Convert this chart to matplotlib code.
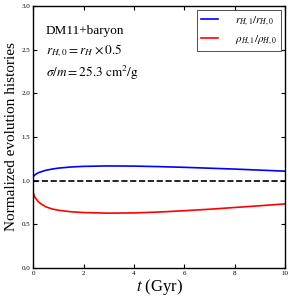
import numpy as np
import matplotlib as mpl
mpl.use('Agg')
import matplotlib.pyplot as plt

mpl.rcParams['font.family'] = 'Liberation Serif'
mpl.rcParams['mathtext.fontset'] = 'stix'

t = [0, 0.05, 0.1, 0.2, 0.3, 0.5, 0.75, 1, 1.5, 2, 3, 4, 5, 6, 7, 8, 9, 10]
r_ratio = [1.046, 1.06, 1.072, 1.09, 1.10, 1.118, 1.132, 1.143, 1.156, 1.163, 1.168, 1.166, 1.16, 1.152, 1.142, 1.132, 1.12, 1.108]
rho_ratio = [0.86, 0.82, 0.795, 0.76, 0.735, 0.70, 0.675, 0.66, 0.643, 0.634, 0.627, 0.630, 0.640, 0.655, 0.672, 0.692, 0.712, 0.733]

fig, ax = plt.subplots(figsize=(2.94, 3.01), dpi=100)
fig.subplots_adjust(left=0.113, right=0.97, bottom=0.11, top=0.98)

ax.plot(t, r_ratio, color='blue', lw=1.2, label=r'$r_{H,1}/r_{H,0}$')
ax.plot(t, rho_ratio, color='red', lw=1.2, label=r'$\rho_{H,1}/\rho_{H,0}$')
ax.axhline(1.0, color='black', ls='--', lw=1.2)

ax.set_xlim(0, 10)
ax.set_ylim(0, 3)
ax.set_xticks([0, 2, 4, 6, 8, 10])
ax.set_yticks([0, 0.5, 1.0, 1.5, 2.0, 2.5, 3.0])
ax.set_yticklabels(['0.0', '0.5', '1.0', '1.5', '2.0', '2.5', '3.0'])
ax.tick_params(direction='in', top=True, right=True, labelsize=5, length=3, width=0.8, pad=2)
for s in ax.spines.values():
    s.set_linewidth(1.0)

ax.set_xlabel(r'$t$ (Gyr)', fontsize=12, labelpad=1)
ax.set_ylabel('Normalized evolution histories', fontsize=11, labelpad=3)

ax.text(0.05, 0.895, 'DM11+baryon', transform=ax.transAxes, fontsize=9.5)
ax.text(0.05, 0.815, r'$r_{H,0} = r_H \times 0.5$', transform=ax.transAxes, fontsize=9.5)
ax.text(0.05, 0.73, r'$\sigma/m = 25.3\ \mathrm{cm}^2/\mathrm{g}$', transform=ax.transAxes, fontsize=9.5)

leg = ax.legend(loc='upper right', fontsize=8, fancybox=False, edgecolor='black',
                handlelength=1.5, borderpad=0.4, labelspacing=0.5, handletextpad=1.5,
                borderaxespad=0.35)
leg.get_frame().set_linewidth(0.6)

fig.savefig('out.png', dpi=100)
